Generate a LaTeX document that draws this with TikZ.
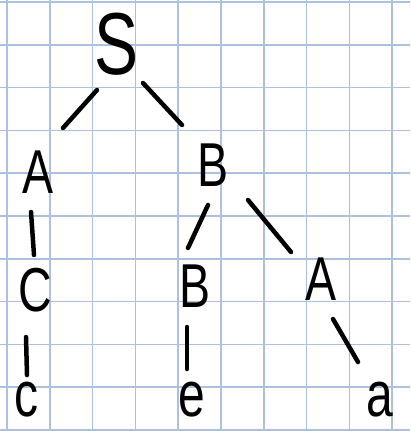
\documentclass[tikz,border=0pt]{standalone}
\usepackage{graphicx}
\usepackage{fontspec}
\setmainfont{Liberation Sans}
\definecolor{gridblue}{RGB}{172,192,224}
\newcommand{\pen}[1]{\scalebox{0.75}[1]{#1}}

\begin{document}
\begin{tikzpicture}[
    x=1pt, y=-1pt,
    start/.style={inner sep=0pt, font=\fontsize{88}{88}\selectfont},
    sym/.style={inner sep=0pt, font=\fontsize{62}{62}\selectfont},
    term/.style={inner sep=0pt, font=\fontsize{64}{64}\selectfont},
    edge/.style={line width=4.5pt, line cap=round},
    paper/.style={gridblue, line width=1.6pt}
]
\useasboundingbox (0,0) rectangle (410,431);
\fill[white] (0,0) rectangle (410,431);
\foreach \k in {0,...,10} {
    \draw[paper] (7+42.8*\k,0) -- (7+42.8*\k,431);
    \draw[paper] (0,2+42.8*\k) -- (410,2+42.8*\k);
}
\node[start] (S) at (117,44) {\pen{S}};
\node[sym] (A1) at (38,172) {\pen{A}};
\node[sym] (B1) at (213,165) {\pen{B}};
\node[sym] (C) at (35,290) {\pen{C}};
\node[sym] (B2) at (195,286) {\pen{B}};
\node[sym] (A2) at (321,279) {\pen{A}};
\node[term] (c) at (26,400) {\pen{c}};
\node[term] (e) at (192,400) {\pen{e}};
\node[term] (a) at (380,400) {\pen{a}};
\draw[edge] ([shift={(-20,46)}]S.center) -- ([shift={(25,-44)}]A1.center);
\draw[edge] ([shift={(26,39)}]S.center) -- ([shift={(-31,-40)}]B1.center);
\draw[edge] ([shift={(-7,40)}]A1.center) -- ([shift={(-1,-35)}]C.center);
\draw[edge] ([shift={(-9,47)}]C.center) -- ([shift={(1,-25)}]c.center);
\draw[edge] ([shift={(-5,40)}]B1.center) -- ([shift={(-7,-38)}]B2.center);
\draw[edge] ([shift={(35,35)}]B1.center) -- ([shift={(-30,-27)}]A2.center);
\draw[edge] ([shift={(-8,41)}]B2.center) -- ([shift={(-5,-31)}]e.center);
\draw[edge] ([shift={(12,40)}]A2.center) -- ([shift={(-22,-38)}]a.center);
\end{tikzpicture}
\end{document}
